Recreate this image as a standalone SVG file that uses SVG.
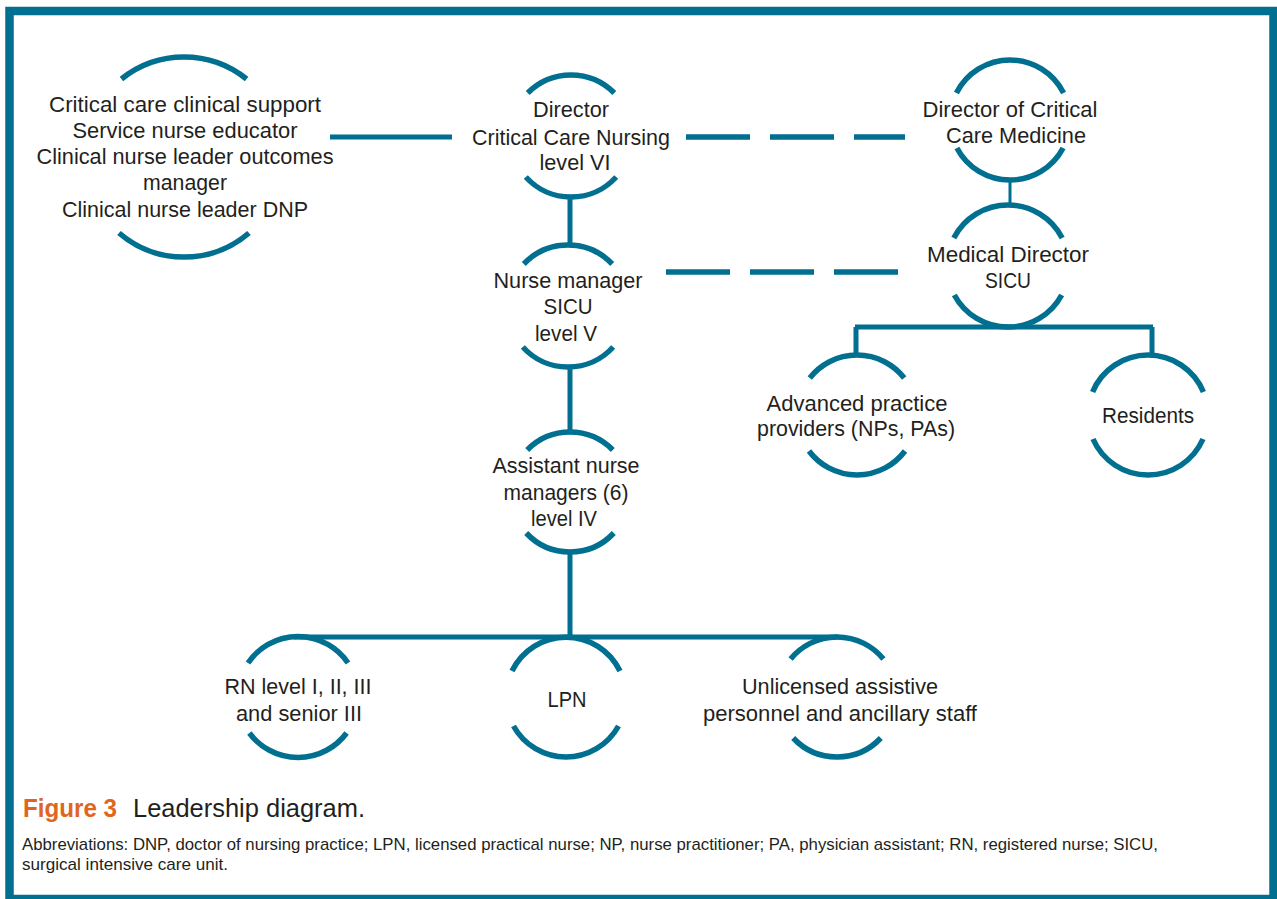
<svg xmlns="http://www.w3.org/2000/svg" width="1277" height="899" viewBox="0 0 1277 899">
<style>
.arc{fill:none;stroke:#006f90;stroke-width:5.5}
.ln{fill:none;stroke:#006f90;stroke-width:5}
.dash{fill:none;stroke:#006f90;stroke-width:5.5;stroke-dasharray:64 20}
.t{font-family:"Liberation Sans",Arial,sans-serif;font-size:22px;fill:#231f20;text-anchor:middle}
.cap{font-family:"Liberation Sans",Arial,sans-serif;fill:#231f20}
</style>
<rect x="0" y="0" width="1277" height="899" fill="#ffffff"/>
<rect x="9.5" y="11" width="1264" height="888" fill="none" stroke="#006f90" stroke-width="8.5"/>

<g id="connectors">
<path class="ln" d="M330 137 H452"/>
<path class="dash" d="M686 137 H905"/>
<path class="dash" d="M666 272 H898"/>
<path class="ln" d="M570 197 V245"/>
<path class="ln" d="M570 367 V432"/>
<path class="ln" d="M570 552 V637"/>
<path class="ln" d="M294 637 H838"/>
<path class="ln" d="M1010 180 V205" style="stroke-width:3"/>
<path class="ln" d="M855 327 H1153"/>
<path class="ln" d="M856 327 V355"/>
<path class="ln" d="M1152 327 V355"/>
</g>

<g id="node-support">
<path class="arc" d="M121.4 79 A100 100 0 0 1 246.6 79"/>
<path class="arc" d="M119 233 A100 100 0 0 0 249 233"/>
<text class="t" x="185" y="112" textLength="272" lengthAdjust="spacingAndGlyphs">Critical care clinical support</text>
<text class="t" x="185" y="138" textLength="225" lengthAdjust="spacingAndGlyphs">Service nurse educator</text>
<text class="t" x="185" y="164" textLength="297" lengthAdjust="spacingAndGlyphs">Clinical nurse leader outcomes</text>
<text class="t" x="185" y="190" textLength="84" lengthAdjust="spacingAndGlyphs">manager</text>
<text class="t" x="185" y="217" textLength="246" lengthAdjust="spacingAndGlyphs">Clinical nurse leader DNP</text>
</g>

<g id="node-director">
<path class="arc" d="M527.7 93 A61 61 0 0 1 614.3 93"/>
<path class="arc" d="M525.8 177 A61 61 0 0 0 616.2 177"/>
<text class="t" x="571" y="117" textLength="76" lengthAdjust="spacingAndGlyphs">Director</text>
<text class="t" x="571" y="145" textLength="198" lengthAdjust="spacingAndGlyphs">Critical Care Nursing</text>
<text class="t" x="575" y="170" textLength="71" lengthAdjust="spacingAndGlyphs">level VI</text>
</g>

<g id="node-dccm">
<path class="arc" d="M956.4 93 A60 60 0 0 1 1063.6 93"/>
<path class="arc" d="M956.9 148 A60 60 0 0 0 1063.1 148"/>
<text class="t" x="1010" y="117" textLength="175" lengthAdjust="spacingAndGlyphs">Director of Critical</text>
<text class="t" x="1016" y="143" textLength="140" lengthAdjust="spacingAndGlyphs">Care Medicine</text>
</g>

<g id="node-meddir">
<path class="arc" d="M953.8 238 A61 61 0 0 1 1062.2 238"/>
<path class="arc" d="M954.3 295 A61 61 0 0 0 1061.7 295"/>
<text class="t" x="1008" y="262" textLength="162" lengthAdjust="spacingAndGlyphs">Medical Director</text>
<text class="t" x="1008" y="288" textLength="46" lengthAdjust="spacingAndGlyphs">SICU</text>
</g>

<g id="node-nursemanager">
<path class="arc" d="M523.8 264 A61 61 0 0 1 612.2 264"/>
<path class="arc" d="M522.8 347 A61 61 0 0 0 613.2 347"/>
<text class="t" x="568" y="288" textLength="149" lengthAdjust="spacingAndGlyphs">Nurse manager</text>
<text class="t" x="568" y="314" textLength="49" lengthAdjust="spacingAndGlyphs">SICU</text>
<text class="t" x="566" y="341" textLength="62" lengthAdjust="spacingAndGlyphs">level V</text>
</g>

<g id="node-assistant">
<path class="arc" d="M527.2 450 A60 60 0 0 1 612.8 450"/>
<path class="arc" d="M526.2 533 A60 60 0 0 0 613.8 533"/>
<text class="t" x="566" y="473" textLength="147" lengthAdjust="spacingAndGlyphs">Assistant nurse</text>
<text class="t" x="566" y="500" textLength="125" lengthAdjust="spacingAndGlyphs">managers (6)</text>
<text class="t" x="564" y="526" textLength="66" lengthAdjust="spacingAndGlyphs">level IV</text>
</g>

<g id="node-app">
<path class="arc" d="M809.8 378 A60 60 0 0 1 904.2 378"/>
<path class="arc" d="M809 451 A60 60 0 0 0 905 451"/>
<text class="t" x="857" y="411" textLength="181" lengthAdjust="spacingAndGlyphs">Advanced practice</text>
<text class="t" x="856" y="436" textLength="198" lengthAdjust="spacingAndGlyphs">providers (NPs, PAs)</text>
</g>

<g id="node-residents">
<path class="arc" d="M1092.6 392 A60 60 0 0 1 1203.4 392"/>
<path class="arc" d="M1093 439 A60 60 0 0 0 1203 439"/>
<text class="t" x="1148" y="423" textLength="92" lengthAdjust="spacingAndGlyphs">Residents</text>
</g>

<g id="node-rn">
<path class="arc" d="M248 663 A60.5 60.5 0 0 1 348 663"/>
<path class="arc" d="M249.4 733 A60.5 60.5 0 0 0 346.6 733"/>
<text class="t" x="298" y="694" textLength="147" lengthAdjust="spacingAndGlyphs">RN level I, II, III</text>
<text class="t" x="299" y="721" textLength="126" lengthAdjust="spacingAndGlyphs">and senior III</text>
</g>

<g id="node-lpn">
<path class="arc" d="M512 671 A60 60 0 0 1 620 671"/>
<path class="arc" d="M513.5 726 A60 60 0 0 0 618.5 726"/>
<text class="t" x="567" y="707" textLength="39" lengthAdjust="spacingAndGlyphs">LPN</text>
</g>

<g id="node-unlicensed">
<path class="arc" d="M790.6 659 A60 60 0 0 1 883.4 659"/>
<path class="arc" d="M793.2 738 A60 60 0 0 0 880.8 738"/>
<text class="t" x="840" y="694" textLength="196" lengthAdjust="spacingAndGlyphs">Unlicensed assistive</text>
<text class="t" x="840" y="721" textLength="274" lengthAdjust="spacingAndGlyphs">personnel and ancillary staff</text>
</g>

<g id="caption">
<text class="cap" x="23" y="817" font-size="26" font-weight="bold" fill="#e0661f" style="fill:#e0661f" textLength="94" lengthAdjust="spacingAndGlyphs">Figure 3</text>
<text class="cap" x="133" y="817" font-size="26" textLength="232" lengthAdjust="spacingAndGlyphs">Leadership diagram.</text>
<text class="cap" x="22" y="850" font-size="17" textLength="1136" lengthAdjust="spacingAndGlyphs">Abbreviations: DNP, doctor of nursing practice; LPN, licensed practical nurse; NP, nurse practitioner; PA, physician assistant; RN, registered nurse; SICU,</text>
<text class="cap" x="22" y="870" font-size="17" textLength="206" lengthAdjust="spacingAndGlyphs">surgical intensive care unit.</text>
</g>
</svg>
